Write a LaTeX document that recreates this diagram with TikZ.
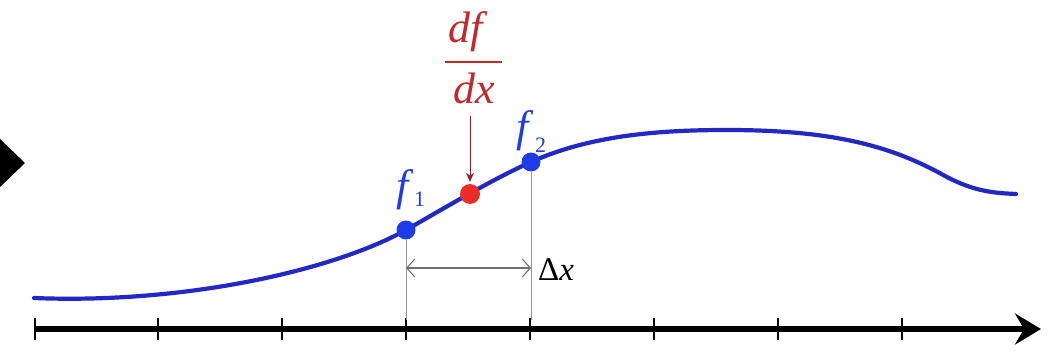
\documentclass[tikz,border=0pt]{standalone}
\usepackage{fontspec}
\setmainfont{Liberation Serif}
\usetikzlibrary{arrows.meta}
\definecolor{curveblue}{RGB}{35,40,195}
\definecolor{dotblue}{RGB}{30,60,230}
\definecolor{dotred}{RGB}{235,45,40}
\definecolor{labred}{RGB}{195,40,45}
\definecolor{guide}{RGB}{150,150,150}
\tikzset{
  dot/.style={circle,inner sep=0pt,minimum size=#1},
  lab/.style={inner sep=0pt,anchor=base west,font=\fontsize{44}{46}\selectfont\itshape},
  sub/.style={inner sep=0pt,anchor=base west,font=\fontsize{22}{24}\selectfont},
  tick/.style={line width=2.4pt},
}
\begin{document}
\begin{tikzpicture}[x=1pt,y=-1pt]
\useasboundingbox (0,0) rectangle (1050,361);
% left triangle
\fill (0,139) -- (25,163) -- (0,187) -- cycle;
% axis
\coordinate (a0) at (35,329);
\coordinate (a1) at (1041,329);
\draw[line width=5.5pt,-{Stealth[length=26pt,width=31pt,inset=9pt]}] (a0) -- (a1);
\foreach \x in {35,158,282,406,530,654,778,902}
  \draw[tick] (\x,318) -- (\x,340);
% curve
\draw[curveblue,line width=4.2pt,line cap=round]
  (34,298) .. controls (180,304) and (330,272) .. (406,230)
  .. controls (448,206) and (493,179) .. (531,162)
  .. controls (591,135) and (660,130) .. (727,130)
  .. controls (830,130) and (890,145) .. (945,176)
  .. controls (975,192) and (995,193) .. (1016,194);
% points
\node[dot=19pt,fill=dotblue] (f1) at (406,230) {};
\node[dot=19pt,fill=dotblue] (f2) at (531,162) {};
\node[dot=20pt,fill=dotred] (m) at (470,194) {};
% guides
\coordinate (b1) at (406,320);
\coordinate (b2) at (531,320);
\draw[guide,line width=0.8pt] (f1) -- (b1);
\draw[guide,line width=0.8pt] (f2) -- (b2);
\coordinate (d1) at (406,268);
\coordinate (d2) at (531,268);
\draw[guide!75!black,line width=1.1pt,{Straight Barb[length=8pt,width=18pt]}-{Straight Barb[length=8pt,width=18pt]}] (d1) -- (d2);
\node[inner sep=0pt,anchor=base west,font=\fontsize{33}{35}\selectfont] (dx) at (538,280) {Δ\textit{x}};
% labels
\node[lab,text=dotblue] (l1) at (396,200) {f};
\node[sub,text=dotblue] (s1) at (414,206) {1};
\node[lab,text=dotblue] (l2) at (516,141) {f};
\node[sub,text=dotblue] (s2) at (535,152) {2};
\node[lab,text=labred] (num) at (448,43) {df};
\node[lab,text=labred] (den) at (453,103) {dx};
\draw[labred,line width=2.2pt] (445,62) -- (502,62);
\coordinate (as) at (470,116);
\draw[labred!75!black,line width=1pt,shorten >=2pt,-{Stealth[length=9pt,width=8pt]}] (as) -- (m.north);
\end{tikzpicture}
\end{document}
